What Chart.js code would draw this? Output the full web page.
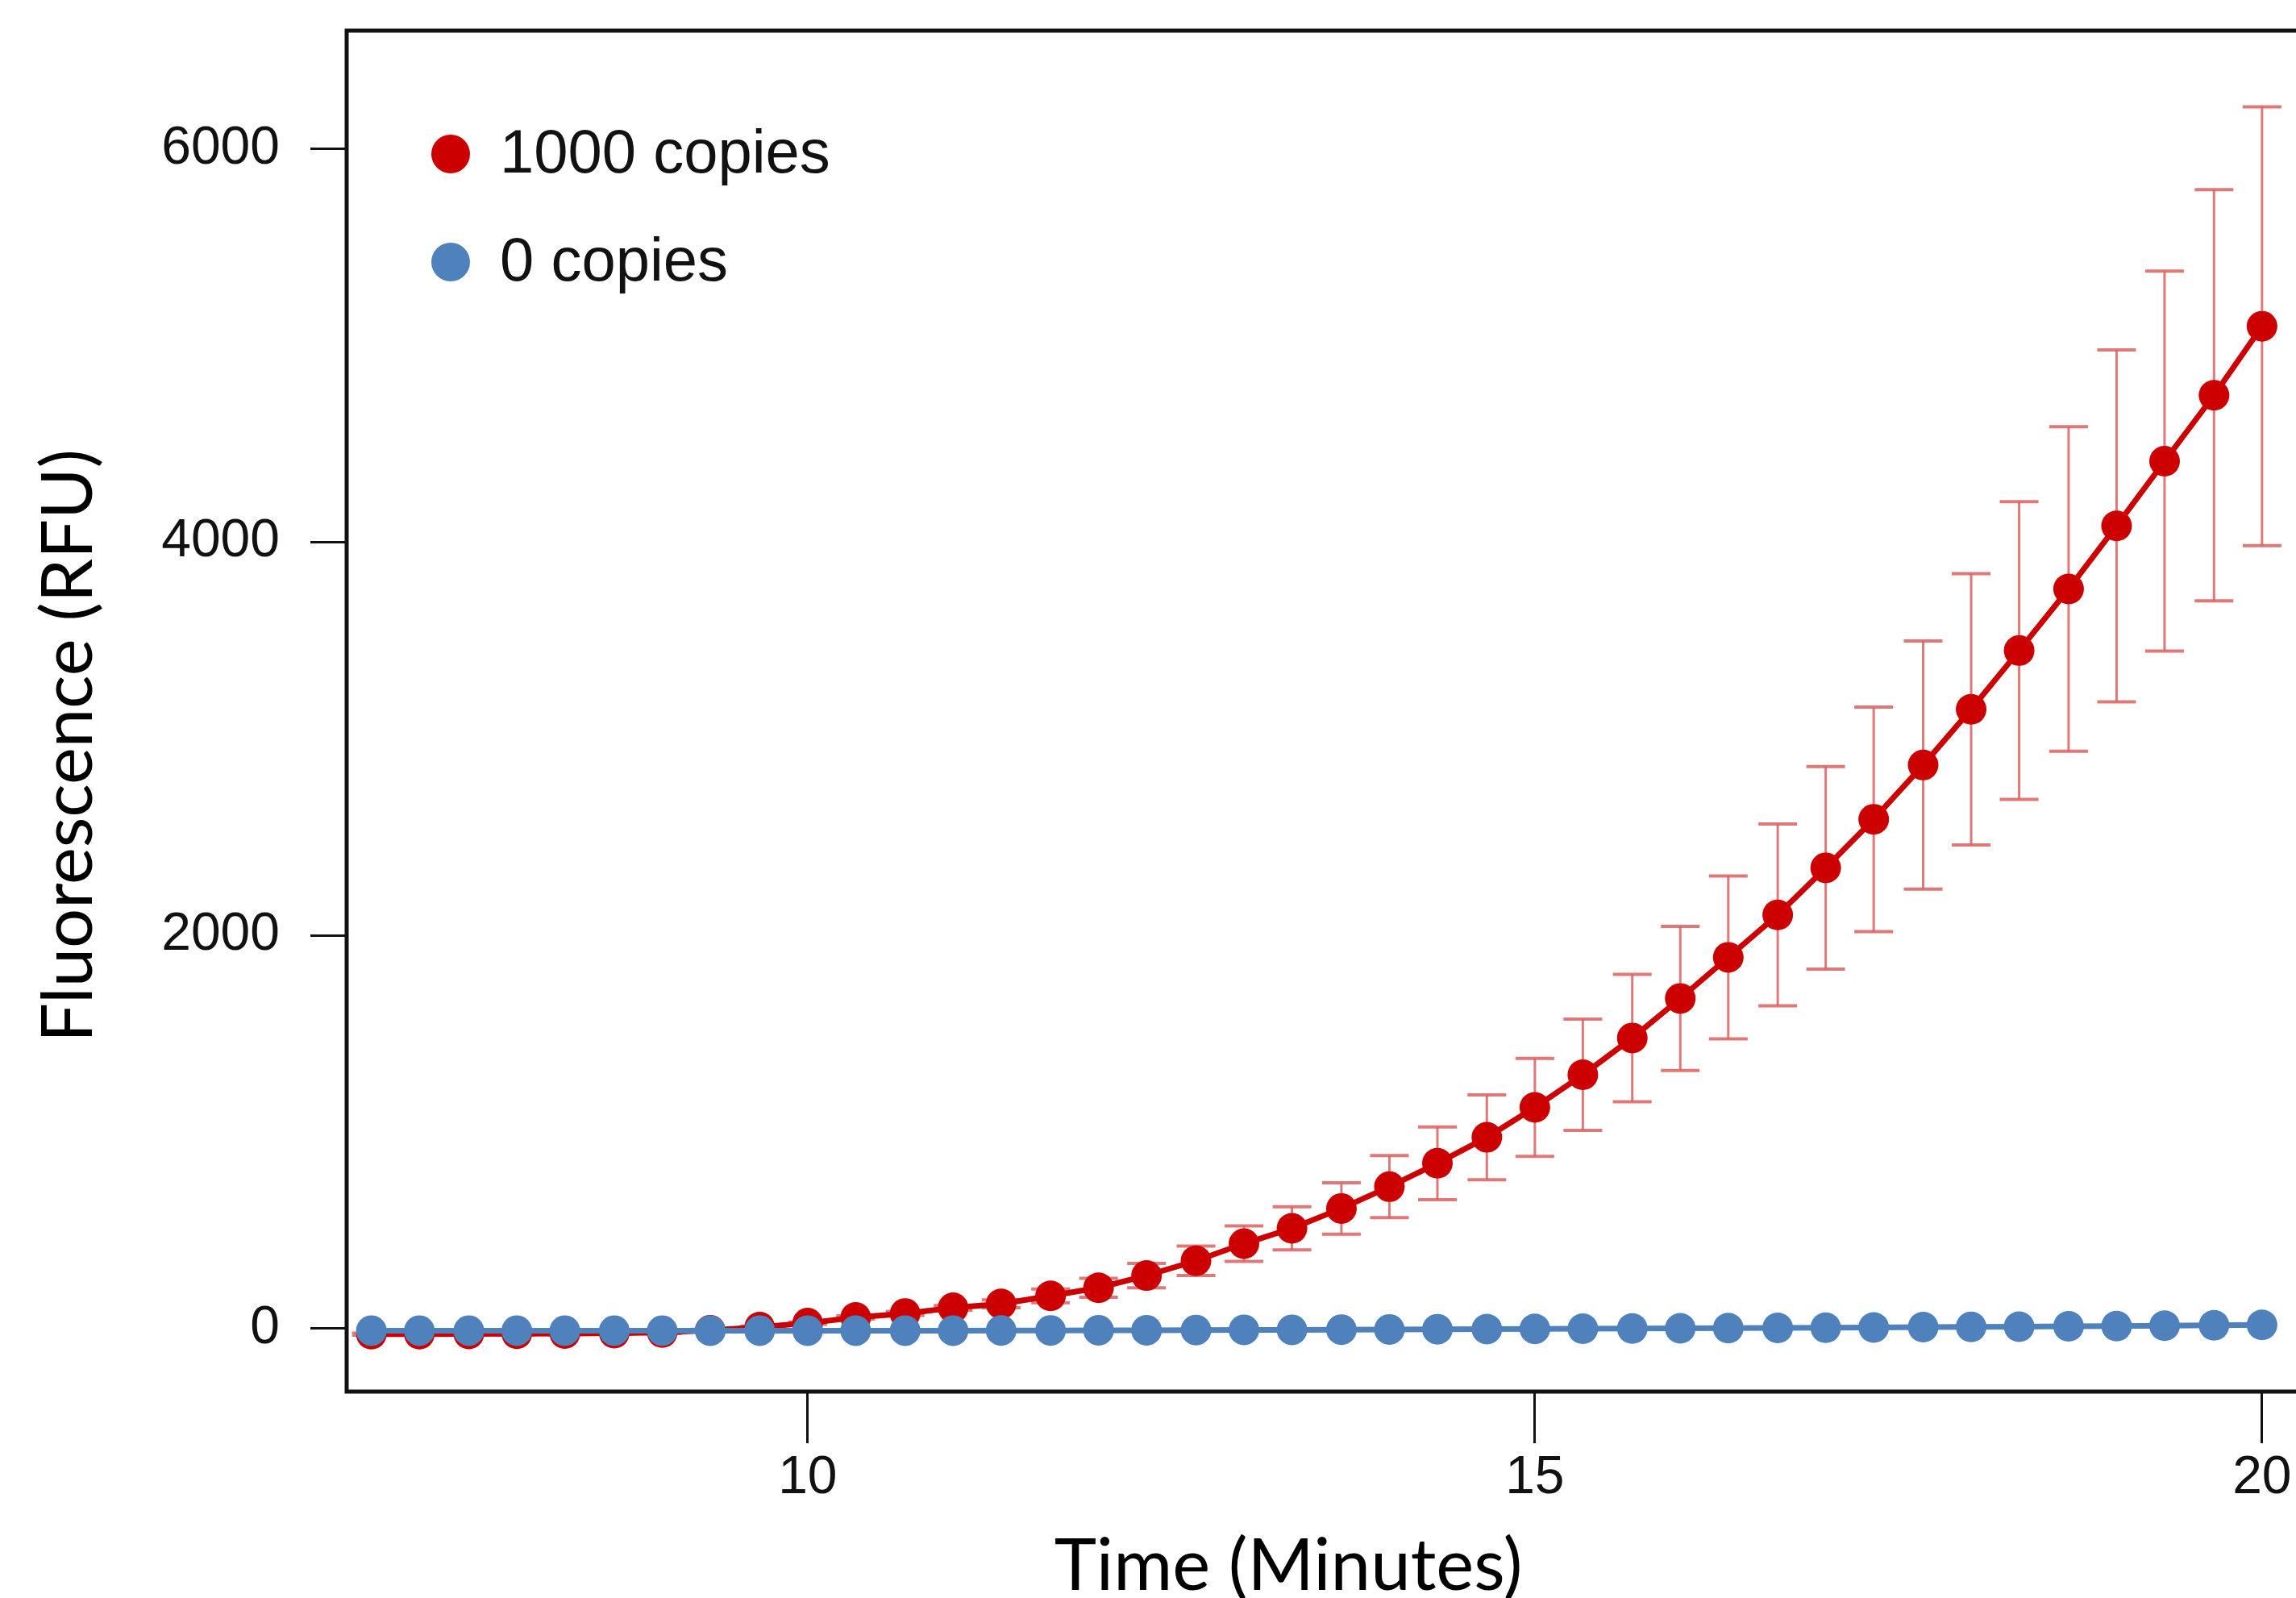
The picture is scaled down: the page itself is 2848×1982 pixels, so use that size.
<!DOCTYPE html>
<html>
<head>
<meta charset="utf-8">
<title>Fluorescence vs time</title>
<script src="https://cdn.jsdelivr.net/npm/chart.js@4.4.1/dist/chart.umd.min.js"></script>
<style>
  html, body { margin: 0; padding: 0; background: #fff; overflow: hidden; }
  #wrap { width: 2848px; height: 1982px; overflow: hidden; }
  canvas { display: block; }
</style>
</head>
<body>
<div id="wrap"><canvas id="chart" width="3000" height="1982"></canvas></div>
<script>
// Data
const times = [7, 7.33, 7.67, 8, 8.33, 8.67, 9, 9.33, 9.67, 10,
  10.33, 10.67, 11, 11.33, 11.67, 12, 12.33, 12.67, 13, 13.33,
  13.67, 14, 14.33, 14.67, 15, 15.33, 15.67, 16, 16.33, 16.67,
  17, 17.33, 17.67, 18, 18.33, 18.67, 19, 19.33, 19.67, 20];

const copies1000 = [-28, -28, -27, -26, -25, -23, -20, -8, 8, 28,
  57, 77, 106, 126, 167, 208, 270, 345, 432, 510,
  611, 722, 841, 973, 1125, 1291, 1478, 1679, 1888, 2104,
  2343, 2590, 2866, 3149, 3448, 3761, 4082, 4411, 4746, 5097];

const copies1000Err = [5, 5, 5, 5, 5, 5, 5, 5, 5, 6,
  8, 10, 12, 20, 35, 48, 62, 75, 90, 110,
  131, 158, 185, 216, 249, 283, 324, 366, 414, 462,
  515, 571, 631, 690, 757, 825, 895, 966, 1045, 1116];

const copies0 = [-10, -10, -10, -10, -10, -10, -10, -10, -10, -10,
  -10, -10, -10, -9, -9, -8, -8, -7, -6, -6,
  -5, -4, -3, -2, -1, 0, 1, 2, 3, 4,
  5, 6, 8, 9, 10, 12, 13, 15, 17, 19];

const seriesLabels = ['1000 copies', '0 copies'];
const seriesColors = ['#cc0000', '#4f81bd'];
const xTicks = [10, 15, 20];
const yTicks = [0, 2000, 4000, 6000];
const xTitle = 'Time (Minutes)';
const yTitle = 'Fluorescence (RFU)';

const toPoints = (vals) => vals.map((v, i) => ({ x: times[i], y: v }));

// Error bars for the 1000 copies series
const errorBars = {
  id: 'errorBars',
  beforeDatasetsDraw(chart) {
    const { ctx, scales: { x, y } } = chart;
    ctx.save();
    ctx.strokeStyle = 'rgba(220, 96, 96, 0.85)';
    copies1000.forEach((v, i) => {
      const px = x.getPixelForValue(times[i]);
      const top = y.getPixelForValue(v + copies1000Err[i]);
      const bot = y.getPixelForValue(v - copies1000Err[i]);
      ctx.lineWidth = 3;
      ctx.beginPath();
      ctx.moveTo(px, top);
      ctx.lineTo(px, bot);
      ctx.stroke();
      ctx.lineWidth = 4;
      ctx.beginPath();
      ctx.moveTo(px - 24, top); ctx.lineTo(px + 24, top);
      ctx.moveTo(px - 24, bot); ctx.lineTo(px + 24, bot);
      ctx.stroke();
    });
    ctx.restore();
  }
};

// Box round the plot area
const frame = {
  id: 'frame',
  afterDraw(chart) {
    const { ctx, chartArea: a } = chart;
    ctx.save();
    ctx.strokeStyle = '#111';
    ctx.lineWidth = 5;
    ctx.strokeRect(a.left, a.top, a.right - a.left, a.bottom - a.top);
    ctx.restore();
  }
};

// Legend inside the plot, top left
const insideLegend = {
  id: 'insideLegend',
  afterDraw(chart) {
    const { ctx, chartArea: a } = chart;
    ctx.save();
    ctx.font = '76px "Liberation Sans", Arial, sans-serif';
    ctx.textBaseline = 'middle';
    seriesLabels.forEach((label, i) => {
      const cy = a.top + 153 + i * 134;
      ctx.fillStyle = seriesColors[i];
      ctx.beginPath();
      ctx.arc(a.left + 129, cy, 24, 0, Math.PI * 2);
      ctx.fill();
      ctx.fillStyle = '#111';
      ctx.fillText(label, a.left + 190, cy + 2);
    });
    ctx.restore();
  }
};

// Axis titles, sized to the widths seen in the figure
function fitFont(ctx, text, width, family) {
  ctx.font = '100px ' + family;
  const size = 100 * width / ctx.measureText(text).width;
  return size.toFixed(1) + 'px ' + family;
}

const axisTitles = {
  id: 'axisTitles',
  afterDraw(chart) {
    const { ctx } = chart;
    const family = 'Lato, "Open Sans", sans-serif';
    ctx.save();
    ctx.fillStyle = '#000';
    ctx.textAlign = 'center';
    ctx.textBaseline = 'alphabetic';
    ctx.font = fitFont(ctx, xTitle, 581, family);
    ctx.fillText(xTitle, 1598, 1972);
    ctx.translate(114, 925);
    ctx.rotate(-Math.PI / 2);
    ctx.font = fitFont(ctx, yTitle, 736, family);
    ctx.fillText(yTitle, 0, 0);
    ctx.restore();
  }
};

const tickFont = { family: '"Liberation Sans", Arial, sans-serif', size: 66 };

new Chart(document.getElementById('chart').getContext('2d'), {
  type: 'line',
  data: {
    datasets: [
      {
        label: seriesLabels[0],
        data: toPoints(copies1000),
        borderColor: seriesColors[0],
        backgroundColor: seriesColors[0],
        pointBackgroundColor: seriesColors[0],
        borderWidth: 7,
        pointRadius: 19,
        pointBorderWidth: 0,
        order: 2
      },
      {
        label: seriesLabels[1],
        data: toPoints(copies0),
        borderColor: seriesColors[1],
        backgroundColor: seriesColors[1],
        pointBackgroundColor: seriesColors[1],
        borderWidth: 7,
        pointRadius: 19,
        pointBorderWidth: 0,
        order: 1
      }
    ]
  },
  options: {
    responsive: false,
    animation: false,
    devicePixelRatio: 1,
    layout: { padding: { left: 0, top: 38, right: 122, bottom: 0 } },
    plugins: {
      legend: { display: false },
      tooltip: { enabled: false }
    },
    scales: {
      x: {
        type: 'linear',
        min: 6.83,
        max: 20.4,
        afterBuildTicks: (scale) => { scale.ticks = xTicks.map(v => ({ value: v })); },
        afterFit: (scale) => {
          scale.height = 256;
          scale.paddingLeft = 0;
          scale.paddingRight = 0;
        },
        border: { display: false },
        grid: {
          drawOnChartArea: false,
          drawTicks: true,
          tickLength: 64,
          tickWidth: 3,
          tickColor: '#111'
        },
        ticks: {
          font: tickFont,
          color: '#111',
          padding: 4,
          maxRotation: 0,
          callback: (v) => String(v)
        }
      },
      y: {
        type: 'linear',
        min: -320,
        max: 6600,
        afterBuildTicks: (scale) => { scale.ticks = yTicks.map(v => ({ value: v })); },
        afterFit: (scale) => {
          scale.width = 430;
          scale.paddingTop = 0;
          scale.paddingBottom = 0;
        },
        border: { display: false },
        grid: {
          drawOnChartArea: false,
          drawTicks: true,
          tickLength: 45,
          tickWidth: 3,
          tickColor: '#111'
        },
        ticks: {
          font: tickFont,
          color: '#111',
          padding: 38,
          callback: (v) => String(v)
        }
      }
    }
  },
  plugins: [errorBars, frame, insideLegend, axisTitles]
});
</script>
</body>
</html>
